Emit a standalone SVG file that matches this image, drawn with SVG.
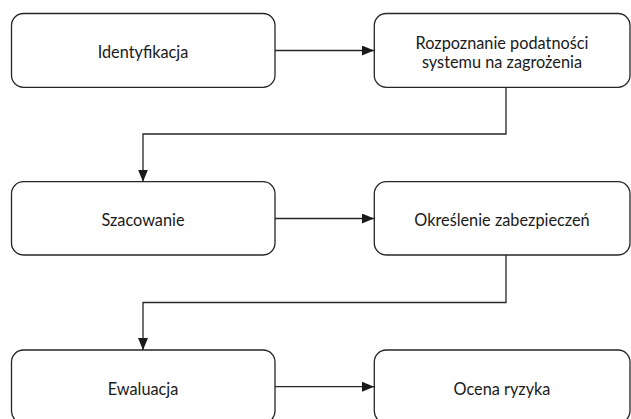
<svg xmlns="http://www.w3.org/2000/svg" width="631" height="419" viewBox="0 0 631 419">
<style>
.box{fill:#fff;stroke:#262626;stroke-width:1.3}
.lbl{font-family:Lato,"Liberation Sans",sans-serif;font-size:16.3px;fill:#1a1a1a;text-anchor:middle}
.con{fill:none;stroke:#262626;stroke-width:1.3}
</style>
<defs>
<marker id="ah" markerWidth="12" markerHeight="10" refX="12" refY="5" orient="auto" markerUnits="userSpaceOnUse">
<path d="M0,0 L12,5 L0,10 Z" fill="#1a1a1a"/>
</marker>
</defs>
<rect width="631" height="419" fill="#fff"/>
<g id="connectors">
<path class="con" d="M275 50.5 H374" marker-end="url(#ah)"/>
<path class="con" d="M506 87.3 V134 H143 V181.7" marker-end="url(#ah)"/>
<path class="con" d="M275 218.5 H374" marker-end="url(#ah)"/>
<path class="con" d="M506 255 V302.5 H143 V350" marker-end="url(#ah)"/>
<path class="con" d="M275 386.7 H374" marker-end="url(#ah)"/>
</g>
<g id="n1"><rect class="box" x="11.5" y="13.5" width="263.5" height="73.8" rx="12"/><text class="lbl" x="143" y="57.5">Identyfikacja</text></g>
<g id="n2"><rect class="box" x="374.3" y="13.5" width="255.7" height="73.8" rx="12"/><text class="lbl" x="502" y="48.5">Rozpoznanie podatności</text><text class="lbl" x="502" y="68">systemu na zagrożenia</text></g>
<g id="n3"><rect class="box" x="11.5" y="181.7" width="263.5" height="73.3" rx="12"/><text class="lbl" x="143" y="226">Szacowanie</text></g>
<g id="n4"><rect class="box" x="374.3" y="181.7" width="255.7" height="73.3" rx="12"/><text class="lbl" x="502" y="226">Określenie zabezpieczeń</text></g>
<g id="n5"><rect class="box" x="11.5" y="350" width="263.5" height="73.3" rx="12"/><text class="lbl" x="143" y="395">Ewaluacja</text></g>
<g id="n6"><rect class="box" x="374.3" y="350" width="255.7" height="73.3" rx="12"/><text class="lbl" x="502" y="395">Ocena ryzyka</text></g>
</svg>
